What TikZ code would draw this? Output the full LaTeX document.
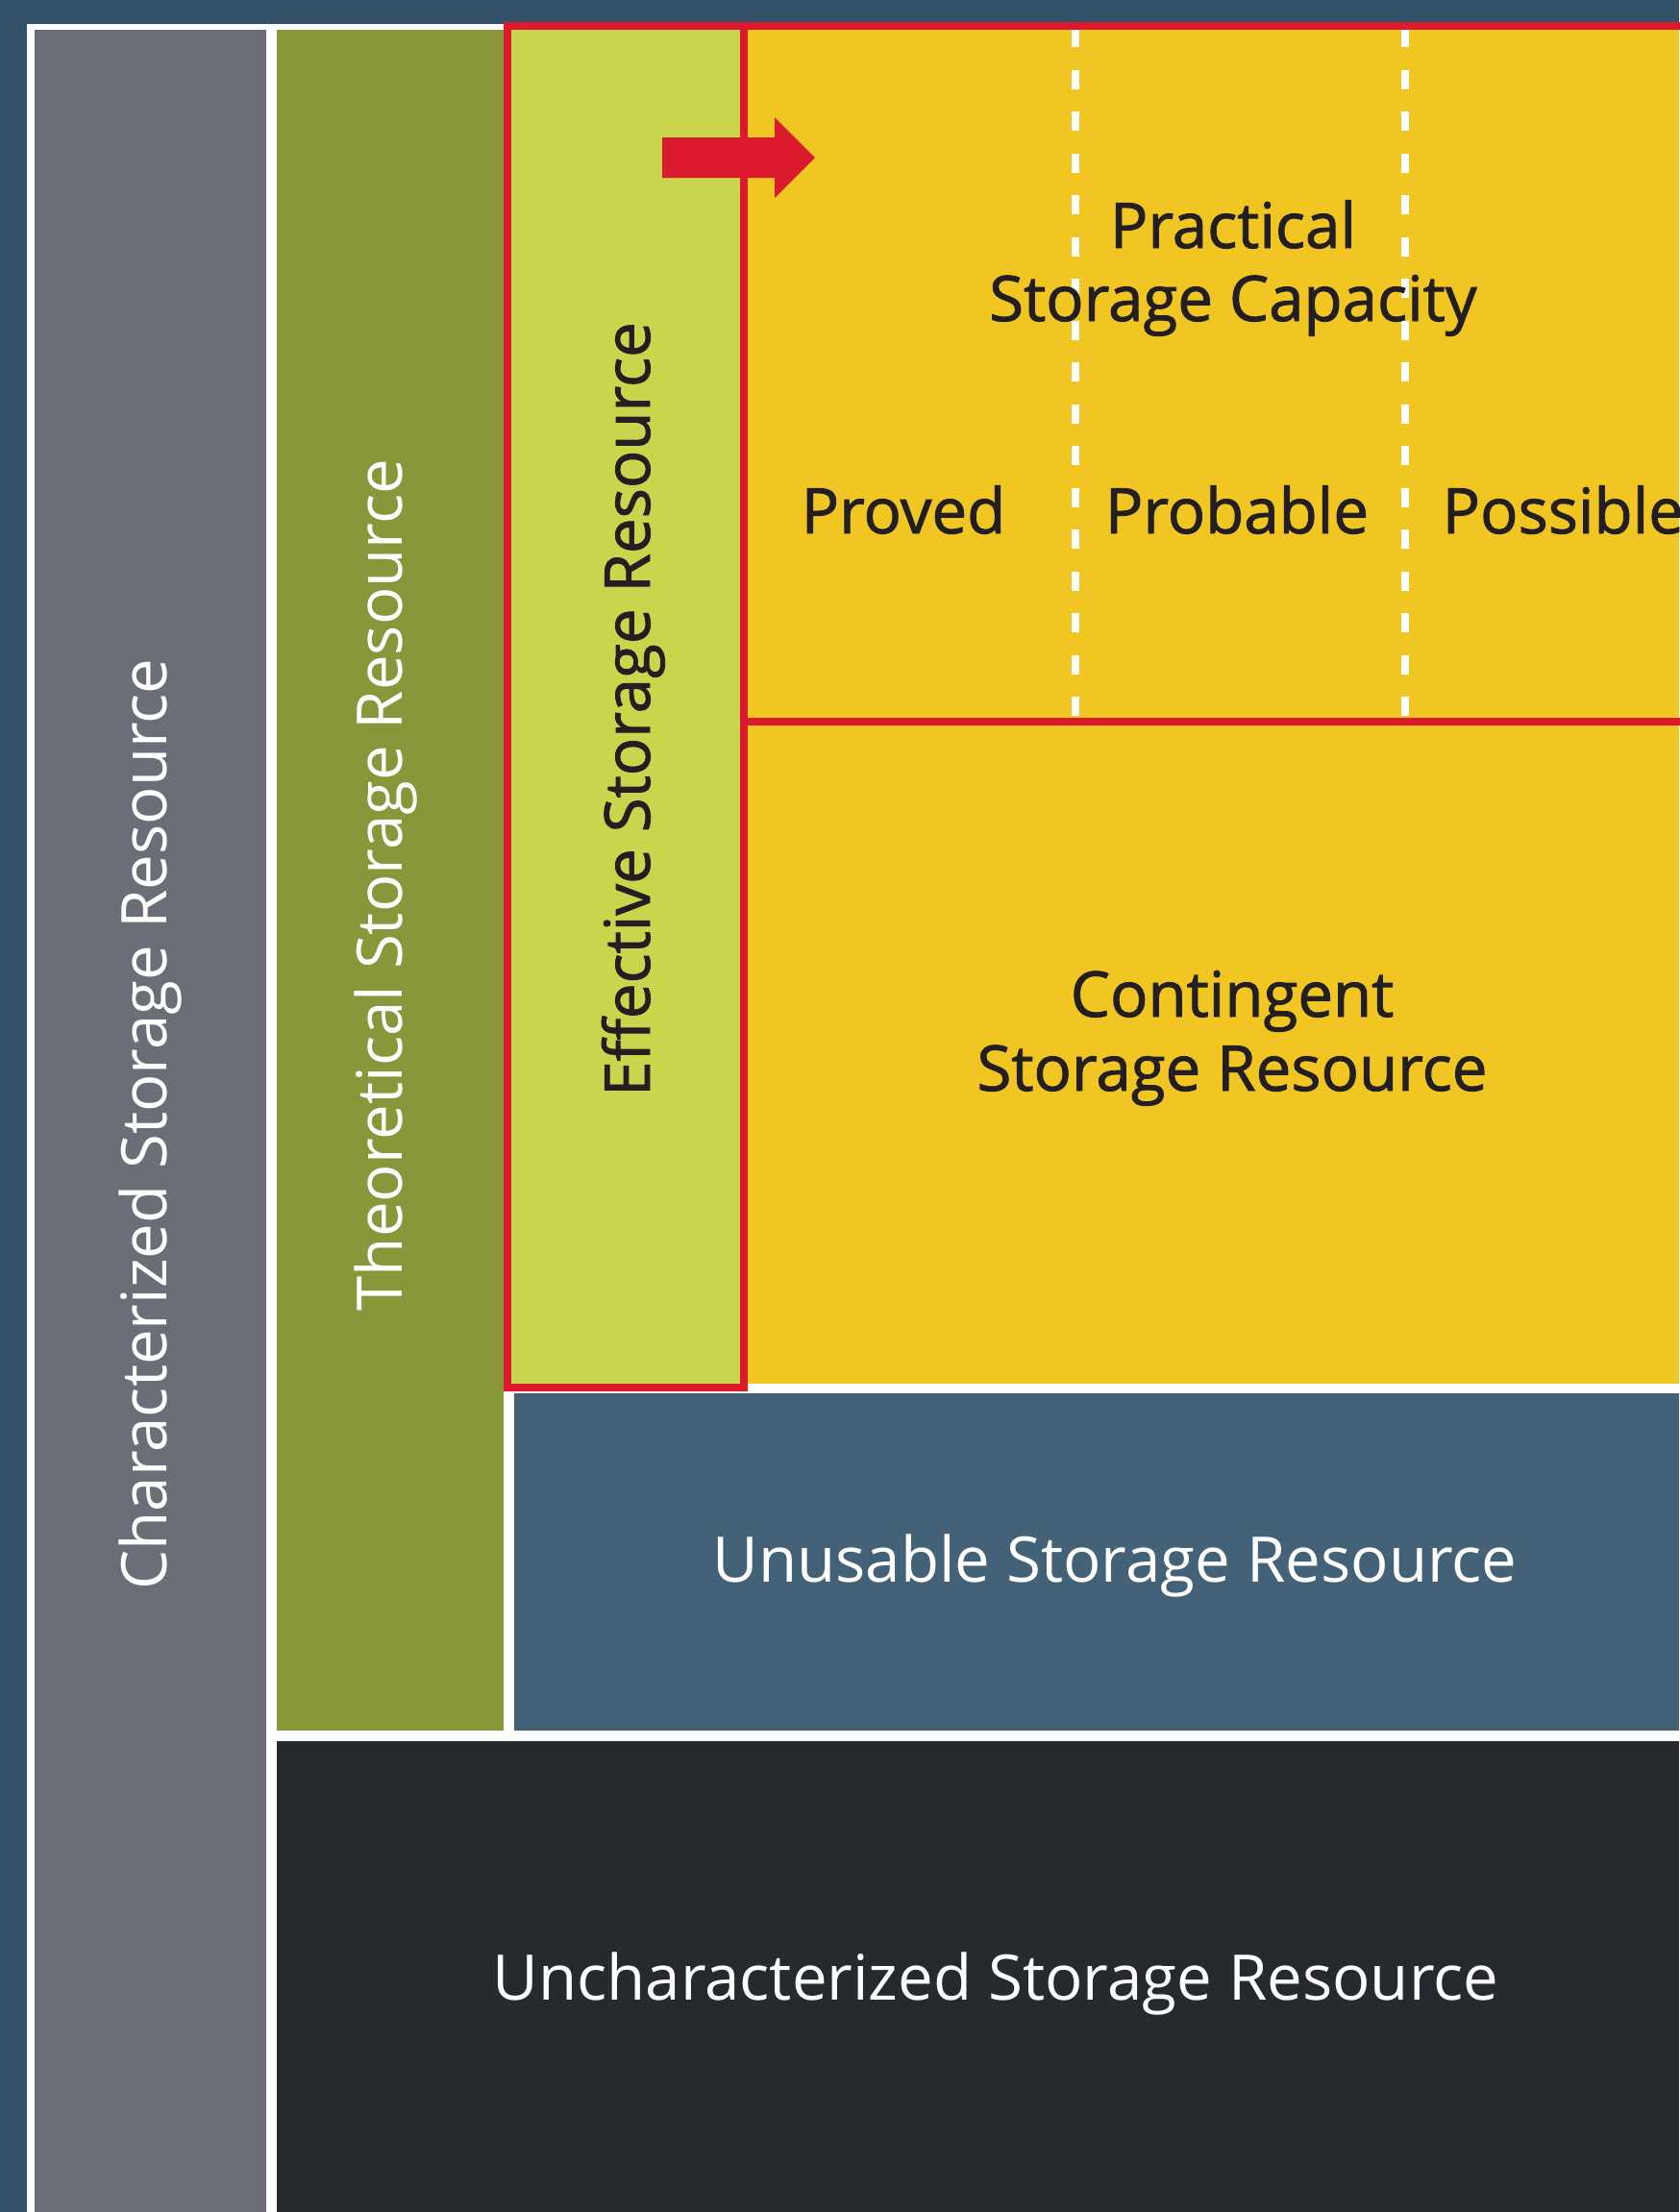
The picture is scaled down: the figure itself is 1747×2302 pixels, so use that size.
\documentclass[tikz,border=0pt]{standalone}
\usepackage{fontspec}
\setmainfont{Open Sans}[BoldFont=*,BoldFeatures={FakeBold=1.4}]
\usetikzlibrary{positioning}

\definecolor{bgblue}{HTML}{33526A}
\definecolor{slate}{HTML}{6B6E77}
\definecolor{olive}{HTML}{89973A}
\definecolor{lime}{HTML}{C9D54D}
\definecolor{amber}{HTML}{F1C522}
\definecolor{accent}{HTML}{DC1A2E}
\definecolor{steel}{HTML}{436278}
\definecolor{charcoal}{HTML}{262A2F}
\definecolor{ink}{HTML}{231F20}

\begin{document}
\begin{tikzpicture}[
		x=0.01cm,y=-0.01cm,
		darklabel/.style={text=ink,font=\fontsize{18.6}{22}\selectfont\bfseries,inner sep=0pt},
		lightlabel/.style={text=white,font=\fontsize{18.6}{22}\selectfont,inner sep=0pt},
		redframe/.style={draw=accent,line width=0.08cm},
		divider/.style={draw=white,line width=0.085cm,dash pattern=on 0.2cm off 0.235cm}
		]
		\useasboundingbox (0,0) rectangle (1747,2302);
		\fill[bgblue] (0,0) rectangle (1747,2302);
		\fill[white] (28,25) rectangle (1747,2302);
		% columns and blocks
		\fill[slate] (36,31) rectangle (277,2302);
		\fill[olive] (288,31) rectangle (524,1801);
		\fill[lime] (528,27) rectangle (774,1444);
		\fill[amber] (774,27) rectangle (1747,1440);
		\fill[steel] (535,1450) rectangle (1747,1801);
		\fill[charcoal] (288,1812) rectangle (1747,2302);
		% proved / probable / possible
		\draw[divider] (1119,29) -- (1119,746);
		\draw[divider] (1462,29) -- (1462,746);
		\draw[redframe] (528,27) rectangle (774,1444);
		\draw[redframe] (774,27) rectangle (1770,750.5);
		% arrow into practical capacity
		\fill[accent] (689,143) -- (806,143) -- (806,122) -- (848,164)
			-- (806,206) -- (806,185) -- (689,185) -- cycle;
		% labels
		\node[lightlabel,rotate=90,anchor=base] (characterized) at (173,1170) {Characterized Storage Resource};
		\node[lightlabel,rotate=90,anchor=base] (theoretical) at (418,921) {Theoretical Storage Resource};
		\node[darklabel,rotate=90,anchor=base] (effective) at (676,738) {Effective Storage Resource};
		\node[darklabel,anchor=base] (practical) at (1283,258) {Practical};
		\node[darklabel,anchor=base] (capacity) at (1283,334) {Storage Capacity};
		\node[darklabel,anchor=base] (proved) at (940,555) {Proved};
		\node[darklabel,anchor=base] (probable) at (1287,555) {Probable};
		\node[darklabel,anchor=base west] (possible) at (1500,555) {Possible};
		\node[darklabel,anchor=base] (contingent) at (1282,1058) {Contingent};
		\node[darklabel,anchor=base] (contres) at (1282,1135) {Storage Resource};
		\node[lightlabel,anchor=base] (unusable) at (1160,1646) {Unusable Storage Resource};
		\node[lightlabel,anchor=base] (uncharacterized) at (1036,2081) {Uncharacterized Storage Resource};
	\end{tikzpicture}
\end{document}
